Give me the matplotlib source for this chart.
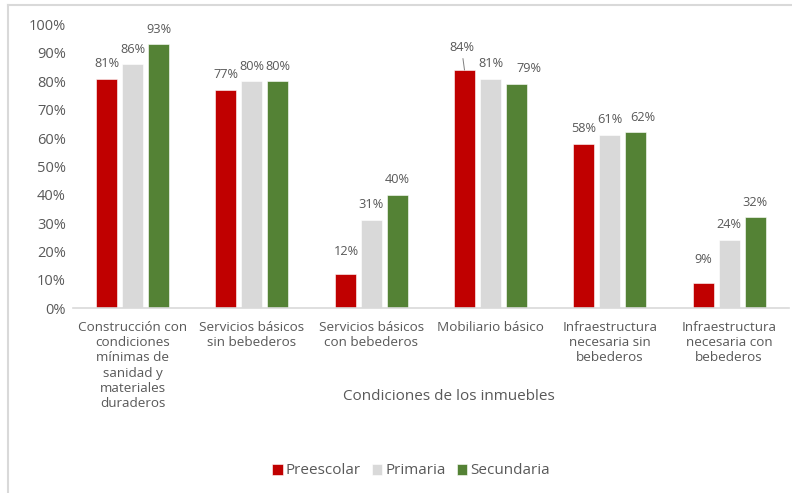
import numpy as np
import matplotlib.pyplot as plt
from matplotlib.lines import Line2D

plt.rcParams['font.family'] = ['Open Sans', 'DejaVu Sans']

categorias = [
    'Construcción con\ncondiciones\nmínimas de\nsanidad y\nmateriales\nduraderos',
    'Servicios básicos\nsin bebederos',
    'Servicios básicos\ncon bebederos',
    'Mobiliario básico',
    'Infraestructura\nnecesaria sin\nbebederos',
    'Infraestructura\nnecesaria con\nbebederos',
]
niveles = ['Preescolar', 'Primaria', 'Secundaria']
preescolar = [0.81, 0.77, 0.12, 0.84, 0.58, 0.09]
primaria = [0.86, 0.80, 0.31, 0.81, 0.61, 0.24]
secundaria = [0.93, 0.80, 0.40, 0.79, 0.62, 0.32]
colores = ['#C00000', '#D9D9D9', '#548235']

gris_texto = '#595959'

fig = plt.figure(figsize=(7.92, 4.93), dpi=100)
ax = fig.add_axes([0.092, 0.375, 0.904, 0.575])

x = np.arange(len(categorias))
ancho = 0.176
paso = 0.218
series = [preescolar, primaria, secundaria]

# desplazamientos manuales de algunas etiquetas (puntos)
ajustes = {(0, 2): (1, 16), (0, 5): (0, 17), (2, 3): (9, 11), (2, 4): (5, 11)}

for i, (valores, nombre, color) in enumerate(zip(series, niveles, colores)):
    pos = x + (i - 1) * paso
    ax.bar(pos, valores, width=ancho, color=color, label=nombre,
           edgecolor='white', linewidth=0.4)
    for j, (px, v) in enumerate(zip(pos, valores)):
        dx, dy = ajustes.get((i, j), (0, 11))
        if (i, j) == (0, 3):
            # etiqueta desplazada con línea guía
            ax.annotate(f'{v:.0%}', (px, v), xytext=(px - 0.025, v + 0.078),
                        ha='center', va='center', fontsize=9.2, color=gris_texto,
                        arrowprops=dict(arrowstyle='-', color='#7f7f7f', lw=0.7,
                                        shrinkA=1, shrinkB=0))
        else:
            ax.annotate(f'{v:.0%}', (px, v), xytext=(dx, dy),
                        textcoords='offset points', ha='center', va='center',
                        fontsize=9.2, color=gris_texto)

ax.set_xlim(-0.5, len(categorias) - 0.5)
ax.set_ylim(0, 1.0)
ax.set_yticks(np.arange(0, 1.01, 0.1))
ax.set_yticklabels([f'{t:.0%}' for t in np.arange(0, 1.01, 0.1)])
ax.set_xticks(x)
ax.set_xticklabels(categorias, fontsize=9.7, color=gris_texto, linespacing=1.23)
ax.tick_params(axis='y', length=0, labelsize=10.5, labelcolor=gris_texto, pad=5)
ax.tick_params(axis='x', length=0, pad=9)

for lado in ['top', 'right', 'left']:
    ax.spines[lado].set_visible(False)
ax.spines['bottom'].set_color('#D9D9D9')
ax.spines['bottom'].set_linewidth(1.2)

fig.text(449 / 792, 1 - 396 / 493, 'Condiciones de los inmuebles', ha='center',
         va='center', fontsize=11, color=gris_texto)

fig.legend(loc='center', bbox_to_anchor=(411 / 792, 1 - 471 / 493), ncol=3,
           frameon=False, fontsize=11, handlelength=0.7, handleheight=0.7,
           handletextpad=0.2, columnspacing=0.7, labelcolor=gris_texto)

# marco exterior del gráfico
fig.add_artist(Line2D([8 / 792, 8 / 792], [0, 1 - 5 / 493], color='#D9D9D9',
                      lw=1.5, transform=fig.transFigure))
fig.add_artist(Line2D([8 / 792, 1], [1 - 5 / 493, 1 - 5 / 493], color='#D9D9D9',
                      lw=1.5, transform=fig.transFigure))

fig.savefig('out.png', dpi=100)
